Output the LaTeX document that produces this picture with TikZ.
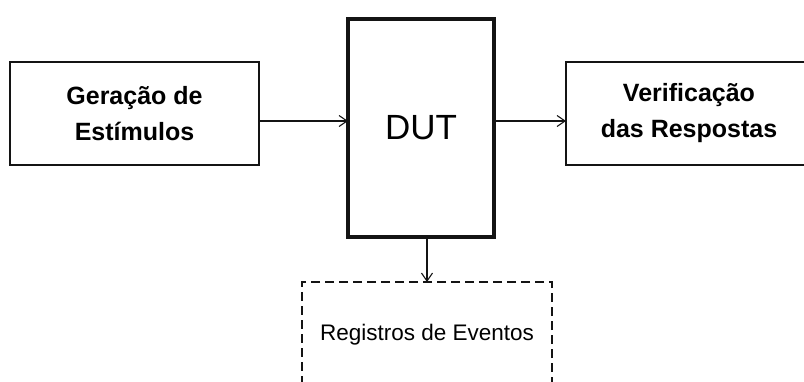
\documentclass[tikz,border=0pt]{standalone}
\usepackage{fontspec}
\setmainfont{Liberation Sans}
\usepackage{tikz}
\usetikzlibrary{arrows.meta}
\definecolor{ink}{RGB}{20, 20, 20}
\tikzset{
  blockbox/.style={draw=ink, line width=1.3pt, inner sep=0pt, outer sep=0pt,
    align=center, font=\fontsize{25}{36}\selectfont\bfseries},
  arr/.style={draw=ink, line width=1.1pt, -{Straight Barb[length=8pt, width=11pt]}}
}

\begin{document}
\begin{tikzpicture}[x=1pt, y=-1pt]

  \useasboundingbox (0, 0) rectangle (804, 381);
  \clip (0, 0) rectangle (804, 381);

  \node[blockbox, minimum width=249pt, minimum height=103pt] (gen)
    at (134.5, 113.5) {Geração de\\Estímulos};

  \node[draw=ink, line width=4pt, inner sep=0pt, outer sep=0pt,
    minimum width=146pt, minimum height=218pt,
    font=\fontsize{35}{40}\selectfont] (dut) at (421, 128) {DUT};

  \node[blockbox, minimum width=246pt, minimum height=103pt] (verif)
    at (689, 113.5) {Verificação\\das Respostas};

  \node[draw=ink, line width=1.4pt, dash pattern=on 9pt off 5pt,
    inner sep=0pt, outer sep=0pt, minimum width=250pt, minimum height=106pt,
    font=\fontsize{22.5}{26}\selectfont] (reg) at (427, 335) {Registros de Eventos};

  \coordinate (mid) at (0, 121);
  \draw[arr] (gen.east |- mid) -- (dut.west |- mid);
  \draw[arr] (dut.east |- mid) -- (verif.west |- mid);
  \draw[arr] (reg.north |- dut.south) -- (reg.north);

\end{tikzpicture}
\end{document}
